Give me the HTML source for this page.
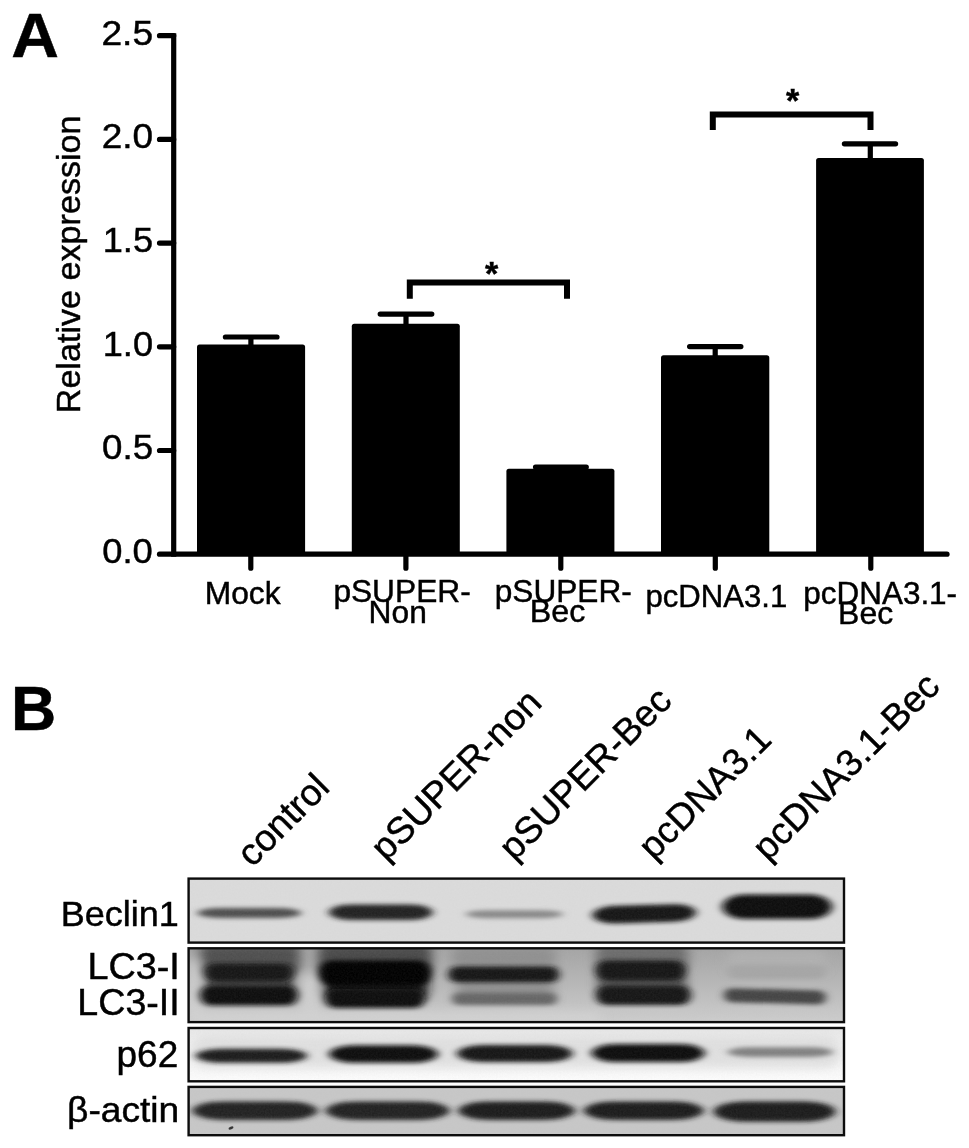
<!DOCTYPE html>
<html><head><meta charset="utf-8"><title>Figure</title>
<style>
html,body{margin:0;padding:0;background:#fff;}
svg{display:block;}
text{font-family:"Liberation Sans",sans-serif;fill:#000;stroke:#000;stroke-width:0.45px;}
</style></head>
<body>
<svg width="969" height="1148" viewBox="0 0 969 1148">
<defs>
<filter id="b2" x="-10%" y="-100%" width="120%" height="300%"><feGaussianBlur stdDeviation="4.5 2.3"/></filter>
<filter id="b6" x="-20%" y="-50%" width="140%" height="200%"><feGaussianBlur stdDeviation="6 4.5"/></filter>
<linearGradient id="g3" x1="0" y1="0" x2="0" y2="1"><stop offset="0" stop-color="#e6e6e6"/><stop offset="0.35" stop-color="#f0f0f0" stop-opacity="0.6"/><stop offset="1" stop-color="#fdfdfd"/></linearGradient>
<filter id="grain" x="0" y="0" width="100%" height="100%"><feTurbulence type="fractalNoise" baseFrequency="0.55" numOctaves="2" seed="7" result="n"/><feColorMatrix type="matrix" values="0 0 0 0 0.5  0 0 0 0 0.5  0 0 0 0 0.5  1.4 1.4 0 0 -0.9"/></filter>
<linearGradient id="g2" x1="0" y1="0" x2="0" y2="1"><stop offset="0" stop-color="#a4a4a4"/><stop offset="0.5" stop-color="#b8b8b8"/><stop offset="1" stop-color="#cdcdcd"/></linearGradient>
<clipPath id="c1"><rect x="188.6" y="878.6" width="655.4" height="64.0"/></clipPath>
<clipPath id="c2"><rect x="188.6" y="948.3" width="655.4" height="73.8"/></clipPath>
<clipPath id="c3"><rect x="188.6" y="1028.0" width="655.4" height="53.3"/></clipPath>
<clipPath id="c4"><rect x="188.6" y="1086.9" width="655.4" height="48.3"/></clipPath>
</defs>
<rect width="969" height="1148" fill="#fff"/>

<!-- PANEL A -->
<text transform="translate(11.23 57.13) scale(1.0651 1.0281)" font-size="62" font-weight="bold">A</text>
<g id="axes" stroke="#000" stroke-width="5.2" fill="none">
<path d="M173.7 33.2V556.7" stroke-linecap="butt"/>
<path d="M159.5 554.2H947" stroke-linecap="round"/>
<path stroke-linecap="round" d="M159.5 35.7H173.7M159.5 139.4H173.7M159.5 243.1H173.7M159.5 346.8H173.7M159.5 450.5H173.7"/>
<path stroke-linecap="round" d="M250.8 554.2V568.2M405.9 554.2V568.2M560.8 554.2V568.2M715.3 554.2V568.2M870.8 554.2V568.2"/>
</g>
<text transform="translate(101.45 44.50) scale(1.0619 1.0124)" font-size="35">2.5</text>
<text transform="translate(101.70 148.18) scale(1.0561 1.0121)" font-size="35">2.0</text>
<text transform="translate(102.70 251.85) scale(1.0348 1.0228)" font-size="35">1.5</text>
<text transform="translate(102.70 355.77) scale(1.0347 1.0121)" font-size="35">1.0</text>
<text transform="translate(102.08 459.33) scale(1.0481 1.0121)" font-size="35">0.5</text>
<text transform="translate(102.27 563.12) scale(1.0381 1.0121)" font-size="35">0.0</text>
<text transform="translate(80.02 413.25) rotate(-90) scale(1.0344)" font-size="33">Relative expression</text>
<g id="bars" fill="#000">
<rect x="197.0" y="344.5" width="108.1" height="209.7" rx="2.5"/>
<rect x="351.8" y="323.8" width="108.0" height="230.4" rx="2.5"/>
<rect x="506.4" y="468.8" width="108.0" height="85.4" rx="2.5"/>
<rect x="661.0" y="355.2" width="108.3" height="199.0" rx="2.5"/>
<rect x="816.1" y="157.9" width="107.8" height="396.3" rx="2.5"/>
</g>
<g id="err" stroke="#000" stroke-width="5.2" stroke-linecap="round" fill="none">
<path d="M250.9 346.5V337.0M225.4 337.0H277.0"/>
<path d="M406.0 325.8V314.1M380.2 314.1H431.8"/>
<path d="M560.8 470.8V467.0M535.5 467.0H586.3"/>
<path d="M715.2 357.2V346.6M689.6 346.6H740.9"/>
<path d="M870.3 159.9V143.8M844.4 143.8H895.6"/>
</g>
<g id="brackets" stroke="#000" stroke-width="6" stroke-linecap="butt" stroke-linejoin="miter" fill="none">
<path d="M409.8 298.7V282.4H567V298.7"/>
<path d="M712.8 130V114.6H870.5V130"/>
</g>
<g font-size="34" text-anchor="middle" font-weight="bold" stroke="none">
<text x="491.6" y="284.6">*</text>
<text x="792.7" y="111.6">*</text>
</g>
<text transform="translate(204.70 603.55) scale(1.0252 0.9848)" font-size="31">Mock</text>
<text transform="translate(333.38 601.92) scale(1.0221 0.9842)" font-size="31">pSUPER-</text>
<text transform="translate(368.62 622.80) scale(1.0239 1.0048)" font-size="31">Non</text>
<text transform="translate(494.80 601.92) scale(1.0195 0.9842)" font-size="31">pSUPER-</text>
<text transform="translate(529.80 622.32) scale(1.0390 0.9931)" font-size="31">Bec</text>
<text transform="translate(645.52 607.12) scale(1.0040 1.0053)" font-size="31">pcDNA3.1</text>
<text transform="translate(803.25 604.08) scale(1.0152 0.9876)" font-size="31">pcDNA3.1-</text>
<text transform="translate(838.12 623.98) scale(1.0300 0.9931)" font-size="31">Bec</text>
<!-- PANEL B -->
<text transform="translate(11.07 730.08) scale(1.0106 1.0106)" font-size="62" font-weight="bold">B</text>
<text transform="translate(252.32 868.20) rotate(-45) scale(1.0199)" font-size="36.5">control</text>
<text transform="translate(386.05 862.35) rotate(-45) scale(1.0178)" font-size="36.5">pSUPER-non</text>
<text transform="translate(514.15 862.03) rotate(-45) scale(1.0200)" font-size="36.5">pSUPER-Bec</text>
<text transform="translate(653.70 861.18) rotate(-45) scale(1.0180)" font-size="36.5">pcDNA3.1</text>
<text transform="translate(767.72 862.25) rotate(-45) scale(1.0197)" font-size="36.5">pcDNA3.1-Bec</text>
<text transform="translate(60.65 925.80) scale(1.0143 0.9829)" font-size="35.5">Beclin1</text>
<text transform="translate(87.38 979.25) scale(1.0644 1.0436)" font-size="35.5">LC3-I</text>
<text transform="translate(77.37 1014.65) scale(1.0586 1.0297)" font-size="35.5">LC3-II</text>
<text transform="translate(116.55 1066.55) scale(1.0407 1.0295)" font-size="35.5">p62</text>
<text transform="translate(67.02 1122.00) scale(1.0468 0.9762)" font-size="35.5">β-actin</text>
<!-- blot 1 -->
<rect x="188.6" y="878.6" width="655.4" height="64.0" fill="#dbdbdb"/>
<g clip-path="url(#c1)">
<g filter="url(#b2)"><rect x="197.5" y="908.0" width="103.5" height="10.0" rx="22.0" ry="5.0" fill="#4e4e4e"/>
<rect x="329.0" y="904.6" width="103.6" height="15.4" rx="22.0" ry="7.7" fill="#202020"/>
<rect x="466.0" y="910.2" width="96.6" height="8.0" rx="22.0" ry="4.0" fill="#888"/>
<rect x="592.5" y="905.0" width="103.5" height="17.6" rx="22.0" ry="8.8" fill="#181818" transform="rotate(-1.6 644.2 913.8)"/>
<rect x="722.3" y="894.6" width="109.7" height="24.4" rx="22.0" ry="12.2" fill="#0a0a0a"/></g>
</g>
<rect x="188.6" y="878.6" width="655.4" height="64.0" filter="url(#grain)" opacity="0.06"/>
<rect x="188.6" y="878.6" width="655.4" height="64.0" fill="none" stroke="#0c0c0c" stroke-width="2.4"/>
<!-- blot 2 -->
<rect x="188.6" y="948.3" width="655.4" height="73.8" fill="#b8b8b8"/>
<rect x="188.6" y="948.3" width="655.4" height="73.8" fill="url(#g2)"/>
<g clip-path="url(#c2)">
<g filter="url(#b6)"><rect x="200.0" y="944.0" width="100.0" height="31.0" rx="8.0" ry="8.0" fill="#505050"/>
<rect x="318.0" y="944.0" width="114.0" height="31.0" rx="8.0" ry="8.0" fill="#4a4a4a"/>
<rect x="452.0" y="946.0" width="104.0" height="26.0" rx="8.0" ry="8.0" fill="#909090"/>
<rect x="596.0" y="944.0" width="92.0" height="28.0" rx="8.0" ry="8.0" fill="#6c6c6c"/>
<rect x="728.0" y="950.0" width="98.0" height="22.0" rx="8.0" ry="8.0" fill="#b0b0b0"/>
<rect x="205.0" y="976.0" width="90.0" height="16.0" rx="6.0" ry="6.0" fill="#404040"/>
<rect x="322.0" y="972.0" width="106.0" height="26.0" rx="6.0" ry="6.0" fill="#141414"/>
<rect x="456.0" y="976.0" width="98.0" height="22.0" rx="6.0" ry="6.0" fill="#909090"/>
<rect x="598.0" y="972.0" width="88.0" height="22.0" rx="6.0" ry="6.0" fill="#505050"/>
<rect x="189.0" y="960.0" width="10.0" height="62.0" rx="4.0" ry="4.0" fill="#d4d4d4"/>
<rect x="302.0" y="975.0" width="16.0" height="47.0" rx="6.0" ry="6.0" fill="#d0d0d0"/>
<rect x="189.0" y="1012.0" width="411.0" height="12.0" rx="4.0" ry="4.0" fill="#d2d2d2"/></g>
<g filter="url(#b2)"><rect x="205.0" y="963.5" width="88.0" height="18.0" rx="9.0" ry="9.0" fill="#141414"/>
<rect x="200.0" y="985.5" width="98.0" height="20.0" rx="10.0" ry="10.0" fill="#101010"/>
<rect x="319.0" y="960.5" width="112.0" height="25.0" rx="12.5" ry="12.5" fill="#040404"/>
<rect x="325.0" y="989.0" width="100.0" height="19.0" rx="9.5" ry="9.5" fill="#101010"/>
<rect x="448.4" y="966.5" width="110.6" height="15.8" rx="7.9" ry="7.9" fill="#161616"/>
<rect x="452.0" y="992.8" width="105.0" height="12.2" rx="6.1" ry="6.1" fill="#666"/>
<rect x="596.0" y="960.5" width="89.4" height="20.0" rx="10.0" ry="10.0" fill="#161616"/>
<rect x="596.0" y="985.8" width="94.7" height="19.2" rx="9.6" ry="9.6" fill="#181818"/>
<rect x="727.5" y="964.7" width="98.3" height="14.1" rx="7.0" ry="7.0" fill="#a6a6a6"/>
<rect x="724.0" y="989.3" width="101.8" height="14.0" rx="7.0" ry="7.0" fill="#444" transform="rotate(1.5 774.9 996.3)"/></g>
</g>
<rect x="188.6" y="948.3" width="655.4" height="73.8" filter="url(#grain)" opacity="0.06"/>
<rect x="188.6" y="948.3" width="655.4" height="73.8" fill="none" stroke="#0c0c0c" stroke-width="2.4"/>
<!-- blot 3 -->
<rect x="188.6" y="1028.0" width="655.4" height="53.3" fill="#f3f3f3"/>
<rect x="188.6" y="1028.0" width="655.4" height="53.3" fill="url(#g3)"/>
<g clip-path="url(#c3)">
<g filter="url(#b6)"><rect x="192.0" y="1036.0" width="648.0" height="32.0" rx="14.0" ry="14.0" fill="#dcdcdc" opacity="0.8"/></g>
<g filter="url(#b2)"><rect x="195.8" y="1048.8" width="111.2" height="14.0" rx="26.0" ry="7.0" fill="#1c1c1c"/>
<rect x="329.0" y="1045.3" width="109.0" height="17.5" rx="26.0" ry="8.8" fill="#0c0c0c"/>
<rect x="457.0" y="1045.0" width="115.5" height="17.0" rx="26.0" ry="8.5" fill="#121212"/>
<rect x="591.4" y="1043.9" width="113.3" height="18.2" rx="26.0" ry="9.1" fill="#0a0a0a"/>
<rect x="727.5" y="1047.2" width="105.3" height="9.8" rx="22.0" ry="4.9" fill="#808080"/></g>
</g>
<rect x="188.6" y="1028.0" width="655.4" height="53.3" filter="url(#grain)" opacity="0.06"/>
<rect x="188.6" y="1028.0" width="655.4" height="53.3" fill="none" stroke="#0c0c0c" stroke-width="2.4"/>
<!-- blot 4 -->
<rect x="188.6" y="1086.9" width="655.4" height="48.3" fill="#c7c7c7"/>
<g clip-path="url(#c4)">
<g filter="url(#b2)"><rect x="192.3" y="1101.4" width="125.2" height="18.6" rx="32.0" ry="9.3" fill="#222"/>
<rect x="325.6" y="1101.4" width="123.9" height="18.6" rx="32.0" ry="9.3" fill="#222"/>
<rect x="458.2" y="1101.4" width="116.8" height="18.6" rx="32.0" ry="9.3" fill="#1e1e1e"/>
<rect x="583.7" y="1101.4" width="120.0" height="18.6" rx="32.0" ry="9.3" fill="#1e1e1e"/>
<rect x="713.5" y="1101.4" width="122.1" height="20.3" rx="32.0" ry="10.1" fill="#1a1a1a"/></g>
</g>
<ellipse cx="231" cy="1128" rx="2.6" ry="1.4" fill="#333" transform="rotate(-20 231 1128)"/>
<rect x="188.6" y="1086.9" width="655.4" height="48.3" filter="url(#grain)" opacity="0.06"/>
<rect x="188.6" y="1086.9" width="655.4" height="48.3" fill="none" stroke="#0c0c0c" stroke-width="2.4"/>

</svg>
</body></html>
